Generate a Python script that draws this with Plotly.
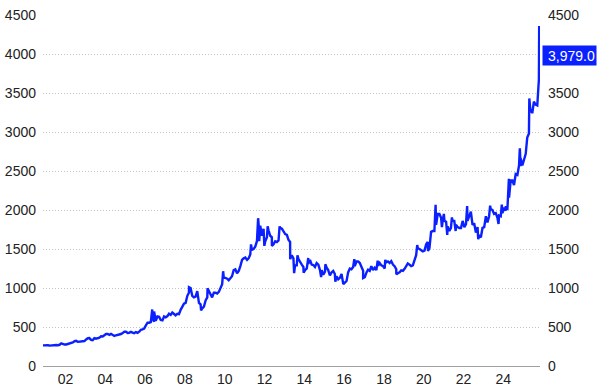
import pandas as pd
import plotly.graph_objects as go

# Monthly (mid-month) gold price, USD/oz, Nov 2000 .. Oct 2025
monthly_start = "2000-11-15"
monthly_prices = [
    266, 272,
    266, 261, 264, 260, 272, 270, 267, 272, 290, 280, 275, 276,
    282, 296, 293, 303, 318, 322, 310, 312, 322, 315, 320, 340,
    356, 358, 335, 330, 358, 350, 352, 362, 382, 378, 394, 410,
    410, 400, 412, 396, 385, 394, 398, 404, 410, 422, 440, 440,
    424, 425, 438, 428, 420, 435, 424, 440, 465, 470, 480, 520,
    555, 555, 562, 620, 700, 580, 635, 630, 590, 585, 635, 625,
    640, 670, 655, 685, 665, 650, 670, 665, 720, 760, 800, 810,
    900, 940, 1000, 900, 880, 890, 960, 810, 790, 740, 760, 840,
    880, 970, 920, 880, 940, 940, 930, 950, 1000, 1050, 1130, 1130,
    1120, 1100, 1120, 1150, 1230, 1240, 1190, 1220, 1280, 1360, 1380, 1390,
    1360, 1380, 1430, 1490, 1500, 1530, 1600, 1820, 1800, 1670, 1760, 1600,
    1650, 1740, 1670, 1650, 1560, 1600, 1590, 1610, 1770, 1760, 1720, 1690,
    1680, 1620, 1590, 1420, 1380, 1290, 1290, 1370, 1330, 1300, 1270, 1230,
    1250, 1310, 1360, 1300, 1295, 1270, 1320, 1300, 1230, 1230, 1170, 1210,
    1260, 1230, 1160, 1200, 1220, 1180, 1150, 1110, 1130, 1180, 1080, 1070,
    1090, 1200, 1250, 1240, 1270, 1280, 1340, 1340, 1320, 1260, 1220, 1140,
    1200, 1235, 1220, 1280, 1230, 1260, 1230, 1285, 1320, 1290, 1280, 1250,
    1330, 1340, 1320, 1345, 1300, 1280, 1240, 1190, 1200, 1225, 1220, 1245,
    1290, 1315, 1300, 1280, 1290, 1350, 1420, 1510, 1500, 1490, 1470, 1480,
    1560, 1590, 1510, 1720, 1730, 1730, 1810, 1950, 1950, 1900, 1870, 1860,
    1850, 1790, 1730, 1770, 1860, 1860, 1810, 1780, 1770, 1770, 1860, 1780,
    1820, 1860, 1930, 1980, 1810, 1830, 1710, 1780, 1670, 1650, 1770, 1780,
    1920, 1840, 1920, 2010, 2000, 1950, 1960, 1900, 1930, 1920, 1960, 2030,
    2050, 2000, 2160, 2380, 2380, 2320, 2460, 2450, 2570, 2660, 2570, 2650,
    2720, 2930, 2980, 3250, 3240, 3390, 3350, 3340, 3680, 4200,
]

# Short-lived highs and lows visible in the chart
extreme_dates = [
    "2000-11-14", "2006-05-12", "2006-06-14", "2008-03-17", "2008-10-24", "2009-02-20",
    "2009-12-03", "2011-04-29", "2011-09-06", "2011-09-26", "2011-12-29", "2012-02-28",
    "2012-05-16", "2012-10-04", "2013-04-16", "2013-06-28", "2013-08-28", "2013-12-19",
    "2014-03-14", "2014-11-05", "2015-01-22", "2015-07-24", "2015-12-17", "2016-07-06",
    "2016-12-15", "2017-09-08", "2018-01-25", "2018-08-16", "2019-09-04", "2020-03-19",
    "2020-08-06", "2020-11-30", "2021-01-05", "2021-03-08", "2021-06-01", "2021-08-09",
    "2022-03-08", "2022-09-27", "2023-05-04", "2023-10-05", "2023-12-04", "2024-02-14",
    "2024-04-12", "2024-10-30", "2024-11-14", "2025-04-22", "2025-05-30", "2025-10-20",
    "2025-10-28", "2025-11-04",
]
extreme_prices = [
    265, 725, 567, 1011, 712, 995,
    1215, 1560, 1895, 1600, 1540, 1790,
    1540, 1790, 1370, 1190, 1420, 1195,
    1385, 1140, 1305, 1080, 1050, 1370,
    1128, 1350, 1360, 1175, 1550, 1475,
    2067, 1780, 1950, 1680, 1905, 1730,
    2050, 1625, 2055, 1820, 2070, 1990,
    2400, 2790, 2560, 3430, 3290, 4360,
    3950, 3979,
]

last_label = "3,979.0"
last_value = 3979.0
left_ticks = [0, 500, 1000, 1500, 2000, 2500, 3000, 3500, 4000, 4500]
right_ticks = [0, 500, 1000, 1500, 2000, 2500, 3000, 3500, 4500]  # 4000 hidden by the value tag

monthly_dates = pd.date_range(monthly_start, periods=len(monthly_prices), freq="MS") + pd.Timedelta(days=14)
s = pd.concat([
    pd.Series(monthly_prices, index=monthly_dates),
    pd.Series(extreme_prices, index=pd.to_datetime(extreme_dates)),
]).sort_index()

BLUE = "#0a20ff"
FONT = dict(family="Liberation Sans, Arial, sans-serif", size=14, color="#222222")

fig = go.Figure()
fig.add_trace(go.Scatter(x=s.index, y=s.values, mode="lines",
                         line=dict(color=BLUE, width=2.4), hoverinfo="skip", yaxis="y"))
fig.add_trace(go.Scatter(x=s.index, y=s.values, mode="lines",
                         line=dict(color="rgba(0,0,0,0)", width=0), hoverinfo="skip",
                         yaxis="y2", showlegend=False))

fig.update_layout(
    width=602, height=391,
    margin=dict(l=43, r=62, t=15, b=25, autoexpand=False),
    paper_bgcolor="white", plot_bgcolor="white",
    showlegend=False,
    font=FONT,
    xaxis=dict(type="date", range=["2000-11-14", "2025-11-04"],
               tick0="2002-01-01", dtick="M24", tickformat="%y",
               showgrid=False, zeroline=False, showline=True, automargin=False,
               linecolor="#a0a0a0", linewidth=1, ticks="", tickfont=FONT),
    yaxis=dict(range=[0, 4500], tickvals=left_ticks, side="left", ticklabelstandoff=6,
               showgrid=True, gridcolor="#c4c4c4", griddash="1px,2px", gridwidth=1,
               zeroline=False, showline=False, ticks="", tickfont=FONT, automargin=False),
    yaxis2=dict(range=[0, 4500], tickvals=right_ticks, side="right", overlaying="y",
                ticklabelstandoff=7, showgrid=False, zeroline=False, showline=False,
                ticks="", tickfont=FONT, automargin=False),
)

fig.add_annotation(x=1, xref="paper", y=last_value, yref="y", xanchor="left", yanchor="middle",
                   xshift=2, text=last_label, showarrow=False, bgcolor=BLUE,
                   font=dict(family="Liberation Sans, Arial, sans-serif", size=14, color="white"),
                   width=51, height=17, align="right", borderpad=1)

fig.write_html("out.html")
